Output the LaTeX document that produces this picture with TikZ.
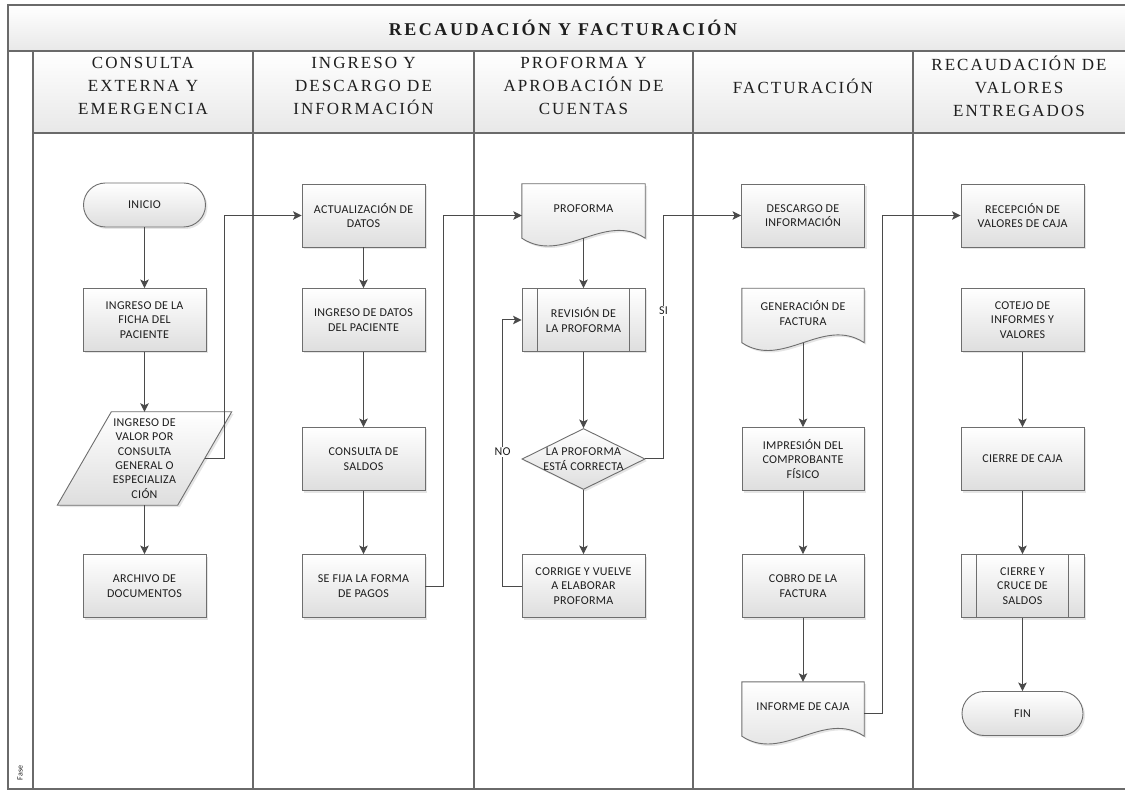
\documentclass[tikz,border=0pt]{standalone}
\usepackage{fontspec}
\setmainfont{Liberation Serif}
\newfontfamily\boxfont[LetterSpace=2.5]{Carlito}
\newfontfamily\plainsans{Carlito}
\newfontfamily\headfont[LetterSpace=12]{Liberation Serif}
\newfontfamily\titlefont[LetterSpace=14]{Liberation Serif}
\usetikzlibrary{shapes.geometric,arrows.meta,shadows,calc}

\definecolor{edge}{HTML}{6E6E6E}
\definecolor{wire}{HTML}{4A4A4A}
\definecolor{lane}{HTML}{6A6A6A}
\definecolor{ink}{HTML}{1E1E1E}

\tikzset{
  shapefill/.style={draw=edge, line width=0.9pt, top color=white, bottom color=black!13,
    drop shadow={opacity=0.2, shadow xshift=2pt, shadow yshift=-2pt}},
  txt/.style={font=\boxfont\fontsize{12}{14.3}\selectfont, text=ink, align=center, inner sep=0pt},
  box/.style={shapefill, txt, minimum width=123pt, minimum height=63pt},
  term/.style={box, rounded corners=22pt, minimum width=122pt, minimum height=44pt},
  ghost/.style={minimum width=123pt, minimum height=63pt, inner sep=0pt},
  decision/.style={shapefill, diamond, minimum width=123pt, minimum height=61pt, inner sep=0pt},
  flow/.style={draw=wire, line width=1pt, -{Stealth[length=8.5pt,width=8.5pt,inset=2pt]}},
  tag/.style={txt, fill=white, inner sep=1.5pt},
  frame/.style={draw=lane, line width=1.2pt},
  headcell/.style={frame, top color=white, bottom color=black!9},
  lanehead/.style={font=\headfont\fontsize{17}{23}\selectfont, text=ink, align=center, inner sep=0pt}
}

% document symbol with a wavy lower edge, drawn around a named ghost node
\newcommand\docshape[1]{%
  \path[shapefill] (#1.north west) -- (#1.north east) -- ([yshift=9pt]#1.south east)
    .. controls ([xshift=-41pt,yshift=36pt]#1.south east) and ([xshift=41pt,yshift=-18pt]#1.south west)
    .. ([yshift=9pt]#1.south west) -- cycle;}
% predefined-process symbol: extra vertical bars inside the box
\newcommand\subbars[1]{%
  \draw[edge, line width=0.9pt] ([xshift=16pt]#1.north west) -- ([xshift=16pt]#1.south west)
    ([xshift=-16pt]#1.north east) -- ([xshift=-16pt]#1.south east);}

\begin{document}
\begin{tikzpicture}[x=1pt, y=-1pt]
\useasboundingbox (0,0) rectangle (1125,791);
\clip (0,0) rectangle (1125,791);
\fill[white] (0,0) rectangle (1125,791);

% ---------- pool frame ----------
\path[headcell] (8,5) rectangle (1130,51);
\node[font=\titlefont\bfseries\fontsize{18}{20}\selectfont, text=ink] (title) at (563,27.5) {RECAUDACIÓN Y FACTURACIÓN};
\path[frame] (8,51) rectangle (33,789);
\node[rotate=90, font=\plainsans\fontsize{8}{8}\selectfont, text=ink] (fase) at (20,773) {Fase};

\foreach \xa/\xb in {33/253, 253/474, 474/693, 693/913, 913/1130}{
  \path[headcell] (\xa,51) rectangle (\xb,133);
  \path[frame] (\xa,133) rectangle (\xb,789);
}
\node[lanehead] (h1) at (143,86) {CONSULTA\\EXTERNA Y\\EMERGENCIA};
\node[lanehead] (h2) at (363.5,86) {INGRESO Y\\DESCARGO DE\\INFORMACIÓN};
\node[lanehead] (h3) at (583.5,86) {PROFORMA Y\\APROBACIÓN DE\\CUENTAS};
\node[lanehead] (h4) at (803,86) {FACTURACIÓN};
\node[lanehead] (h5) at (1019,86) {RECAUDACIÓN DE\\VALORES\\ENTREGADOS};

% ---------- lane 1 ----------
\node[term] (ini) at (144.5,205) {INICIO};
\node[box] (ficha) at (144.5,320) {INGRESO DE LA\\FICHA DEL\\PACIENTE};
\node[ghost, minimum width=120pt, minimum height=93pt] (val) at (144.5,458.5) {};
\path[shapefill] ([xshift=27pt]val.north west) -- ([xshift=27pt]val.north east)
  -- ([xshift=-27pt]val.south east) -- ([xshift=-27pt]val.south west) -- cycle;
\node[txt] (valT) at (val) {INGRESO DE\\VALOR POR\\CONSULTA\\GENERAL O\\ESPECIALIZA\\CIÓN};
\node[box] (arch) at (144.5,586) {ARCHIVO DE\\DOCUMENTOS};

% ---------- lane 2 ----------
\node[box] (act) at (363.5,215.5) {ACTUALIZACIÓN DE\\DATOS};
\node[box] (ingd) at (363.5,320) {INGRESO DE DATOS\\DEL PACIENTE};
\node[box] (cons) at (363.5,459) {CONSULTA DE\\SALDOS};
\node[box] (pagos) at (363.5,586) {SE FIJA LA FORMA\\DE PAGOS};

% ---------- lane 3 ----------
\node[ghost] (prof) at (583.5,215.5) {};
\docshape{prof}
\node[txt, yshift=7pt] (profT) at (prof) {PROFORMA};
\node[box] (rev) at (583.5,320) {REVISIÓN DE\\LA PROFORMA};
\subbars{rev}
\node[decision] (dec) at (583.5,459) {};
\node[txt] (decT) at (dec) {LA PROFORMA\\ESTÁ CORRECTA};
\node[box] (corr) at (583.5,586) {CORRIGE Y VUELVE\\A ELABORAR\\PROFORMA};

% ---------- lane 4 ----------
\node[box] (desc) at (803,215.5) {DESCARGO DE\\INFORMACIÓN};
\node[ghost, minimum width=122pt] (gen) at (803,320) {};
\docshape{gen}
\node[txt, yshift=7pt] (genT) at (gen) {GENERACIÓN DE\\FACTURA};
\node[box, minimum width=122pt] (imp) at (803,459) {IMPRESIÓN DEL\\COMPROBANTE\\FÍSICO};
\node[box, minimum width=122pt] (cobro) at (803,586) {COBRO DE LA\\FACTURA};
\node[ghost, minimum width=122pt] (inf) at (803,713.5) {};
\docshape{inf}
\node[txt, yshift=7pt] (infT) at (inf) {INFORME DE CAJA};

% ---------- lane 5 ----------
\node[box] (recep) at (1022.5,215.5) {RECEPCIÓN DE\\VALORES DE CAJA};
\node[box] (cot) at (1022.5,320) {COTEJO DE\\INFORMES Y\\VALORES};
\node[box] (cierre) at (1022.5,459) {CIERRE DE CAJA};
\node[box] (cruce) at (1022.5,586) {CIERRE Y\\CRUCE DE\\SALDOS};
\subbars{cruce}
\node[term, minimum width=121pt] (fin) at (1022.5,713.5) {FIN};

% ---------- connectors ----------
\draw[flow] (ini) -- (ficha);
\draw[flow] (ficha) -- (val.north);
\draw[flow] (val.south) -- (arch);
\draw[flow] (val.east) -- ++(19.5,0) |- (act.west);

\draw[flow] (act) -- (ingd);
\draw[flow] (ingd) -- (cons);
\draw[flow] (cons) -- (pagos);
\draw[flow] (pagos.east) -- ++(18,0) |- (prof.west);

\draw[flow] ([yshift=9pt]prof.south) -- (rev.north);
\draw[flow] (rev) -- (dec);
\draw[flow] (dec) -- (corr);
\draw[flow] (corr.west) -- ++(-19,0) coordinate (nobend) |- (rev.west);
\node[tag] (no) at ([yshift=7pt]nobend |- dec) {NO};
\draw[flow] (dec.east) -- ++(18,0) coordinate (sibend) |- (desc.west);
\node[tag] (si) at ([yshift=9pt]sibend |- rev) {SI};

\draw[flow] ([yshift=9pt]gen.south) -- (imp.north);
\draw[flow] (imp) -- (cobro);
\draw[flow] (cobro) -- (inf.north);
\draw[flow] (inf.east) -- ++(18,0) |- (recep.west);

\draw[flow] (cot) -- (cierre);
\draw[flow] (cierre) -- (cruce);
\draw[flow] (cruce) -- (fin);
\end{tikzpicture}
\end{document}
